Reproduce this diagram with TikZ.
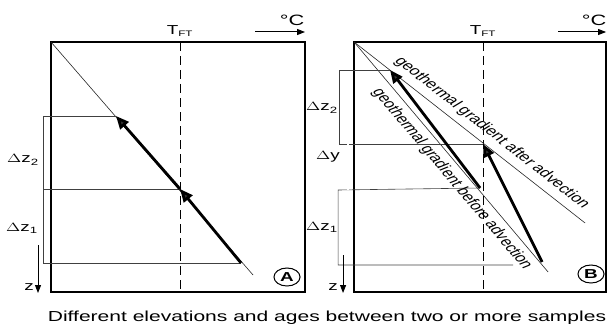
\documentclass[tikz,border=0pt]{standalone}
\usepackage{fontspec}
\setmainfont{Liberation Sans}
\usetikzlibrary{arrows.meta}
\tikzset{
  every node/.style={transform shape},
  frame/.style={line width=1.3pt},
  thin/.style={line width=0.6pt, black!85},
  guide/.style={line width=0.6pt, black!75},
  tft/.style={line width=0.8pt, dash pattern=on 9pt off 5pt},
  thick arrow/.style={line width=2.8pt, -{Triangle[length=13pt,width=11pt,fill=black!80]}},
  unit arrow/.style={line width=1pt, -{Triangle[length=8pt,width=6pt]}},
  z arrow/.style={line width=1pt, -{Triangle[length=8pt,width=6pt]}},
  lbl/.style={font=\fontsize{13}{15}\selectfont, inner sep=1pt},
  grad/.style={font=\fontsize{12.5}{14}\selectfont, inner sep=0pt},
  circ/.style={draw, circle, line width=1pt, minimum size=18pt, inner sep=0pt, font=\fontsize{13}{15}\selectfont\bfseries},
}
\begin{document}
\begin{tikzpicture}[x=0.689655pt,y=-1pt,xscale=1.45]
\useasboundingbox (0,0) rectangle (614,334);
% ---------- Panel A ----------
\coordinate (A0) at (51,42);
\coordinate (A1) at (305,292);
\coordinate (Atop) at (180,42);
\coordinate (Abot) at (180,292);
\coordinate (Aend) at (253,275);
\coordinate (Ap1) at (241,263);
\coordinate (Ap2) at (180,189);
\coordinate (Ap3) at (116,116);
\coordinate (Ab1) at (43,263);
\coordinate (Ab2) at (43,189);
\coordinate (Ab3) at (43,116);
\draw[frame] (A0) rectangle (A1);
\draw[tft] (Atop) -- (Abot);
\draw[thin] (A0) -- (Aend);
\draw[guide] (Ap3) -- (Ab3) -- (Ab1) -- (Ap1);
\draw[guide] (Ab2) -- (Ap2);
\draw[thick arrow] (Ap1) -- (Ap2);
\draw[thick arrow] (Ap2) -- (Ap3);
\node[lbl] (Atft) at (180,31) {T\textsubscript{\fontsize{8}{9}\selectfont FT}};
\node[lbl, font=\fontsize{15}{17}\selectfont] (Adeg) at (292,20) {°C};
\coordinate (Au1) at (255,32);
\coordinate (Au2) at (305,32);
\draw[unit arrow] (Au1) -- (Au2);
\node[lbl] (Adz2) at (23,160) {$\Delta$z\textsubscript{2}};
\node[lbl] (Adz1) at (22,228) {$\Delta$z\textsubscript{1}};
\coordinate (Az1) at (38,245);
\coordinate (Az2) at (38,293);
\draw[z arrow] (Az1) -- (Az2);
\node[lbl] (Az) at (29,287) {z};
\node[circ] (Acirc) at (287,277) {A};
% ---------- Panel B ----------
\coordinate (B0) at (354,42);
\coordinate (B1) at (606,292);
\coordinate (Btop) at (483,42);
\coordinate (Bbot) at (483,292);
\coordinate (Bbef) at (548,272);
\coordinate (Baft) at (585,223);
\coordinate (Bq1) at (542,262);
\coordinate (Bq2) at (483,144);
\coordinate (Bq3) at (480,188);
\coordinate (Bq4) at (390,70);
\draw[frame] (B0) rectangle (B1);
\draw[tft] (Btop) -- (Bbot);
\draw[thin] (B0) -- (Bbef);
\draw[thin] (B0) -- (Baft);
% brackets
\coordinate (Bl1) at (339,70);
\coordinate (Bl2) at (339,144);
\coordinate (Bl3) at (338,190);
\coordinate (Bl4) at (338,265);
\coordinate (Bl5) at (513,265);
\coordinate (Bdy1) at (348,144);
\coordinate (Bdy2) at (348,190);
\draw[guide] (Bq4) -- (Bl1) -- (Bl2) -- (Bq2);
\draw[guide] (Bq3) -- (Bl3) -- (Bl4) -- (Bl5);
\draw[guide, double, double distance=1.2pt, line width=0.5pt] (Bdy1) -- (Bdy2);
\draw[thick arrow] (Bq1) -- (Bq2);
\draw[thick arrow] (Bq3) -- (Bq4);
\node[grad, rotate=-48.6] (Baftlbl) at (492,133) {geothermal gradient after advection};
\node[grad, rotate=-59.7] (Bbeflbl) at (452,179) {geothermal gradient before advection};
\node[lbl] (Btft) at (483,31) {T\textsubscript{\fontsize{8}{9}\selectfont FT}};
\node[lbl, font=\fontsize{15}{17}\selectfont] (Bdeg) at (594,20) {°C};
\coordinate (Bu1) at (558,32);
\coordinate (Bu2) at (606,32);
\draw[unit arrow] (Bu1) -- (Bu2);
\node[lbl] (Bdz2) at (322,108) {$\Delta$z\textsubscript{2}};
\node[lbl] (Bdy) at (328,157) {$\Delta$y};
\node[lbl] (Bdz1) at (322,227) {$\Delta$z\textsubscript{1}};
\coordinate (Bz1) at (343,255);
\coordinate (Bz2) at (343,293);
\draw[z arrow] (Bz1) -- (Bz2);
\node[lbl] (Bz) at (333,287) {z};
\node[circ] (Bcirc) at (591,274) {B};
% ---------- caption ----------
\node[font=\fontsize{14.5}{16}\selectfont, inner sep=0pt] (cap) at (327,318) {Different elevations and ages between two or more samples};
\end{tikzpicture}
\end{document}
